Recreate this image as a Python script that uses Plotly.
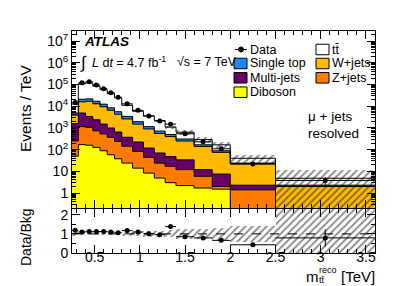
import numpy as np
import plotly.graph_objects as go

# ---------------- data ----------------
edges = [0.25, 0.32, 0.40, 0.48, 0.56, 0.64, 0.72, 0.80, 0.92, 1.04, 1.16,
         1.28, 1.40, 1.60, 1.80, 2.00, 2.50, 3.60]

# events / TeV per component (bottom -> top of stack)
diboson   = [50, 170, 160, 127, 89, 58, 38, 24, 14, 8.3, 4.9, 3.0, 2.2, 1.7, 1.5, 0.05, 0.05]
zjets     = [200, 980, 910, 610, 440, 310, 200, 120, 69, 36, 19, 14, 9.8, 4.2, 0.5, 1.35, 0.05]
multijets = [1350, 3750, 2330, 1660, 975, 630, 410, 228, 142, 74, 46, 31, 22, 6.1, 5.5, 0.9, 0.05]
wjets     = [2300, 11100, 13600, 10600, 8000, 5500, 3650, 2230, 1275, 782, 490, 352, 216, 128, 67.5, 19.7, 1.85]
singletop = [1000, 5000, 5000, 4000, 3000, 2000, 1300, 800, 450, 250, 160, 100, 60, 28, 14, 2.0, 0.3]
ttbar     = [7700, 88000, 98000, 68000, 45500, 29500, 18900, 7700, 3950, 2410, 1470, 590, 325, 123, 78, 16, 2.5]

data      = [15000, 120000, 135000, 95000, 65000, 42000, 26000, 13000, 6500, 3600, 2100, 1500, 540, 230, 110, 22, 3.8]
data_err  = [300, 800, 900, 700, 600, 500, 400, 250, 170, 120, 90, 80, 40, 25, 17, 5, 1.6]

ratio     = [1.19, 1.10, 1.12, 1.12, 1.12, 1.10, 1.06, 1.17, 1.10, 1.01, 0.96, 1.38, 0.85, 0.79, 0.66, 0.43, 0.79]
ratio_err = [0.02, 0.01, 0.01, 0.01, 0.01, 0.01, 0.02, 0.02, 0.03, 0.03, 0.04, 0.06, 0.06, 0.08, 0.1, 0.1, 0.45]

# relative background uncertainty (hatched bands)
unc       = [0.10, 0.08, 0.08, 0.08, 0.08, 0.08, 0.08, 0.10, 0.12, 0.14, 0.15, 0.18, 0.28, 0.28, 0.32, 0.40, 1.3]

names  = ["Diboson", "Z+jets", "Multi-jets", "W+jets", "Single top", "tt\u0304"]
colors = ["#FFFF00", "#FF7A00", "#660066", "#FFBB00", "#1E88F0", "#FFFFFF"]

# ---------------- derived ----------------
edges_a = np.array(edges)
centers = (edges_a[:-1] + edges_a[1:]) / 2
widths = edges_a[1:] - edges_a[:-1]
comps = np.array([diboson, zjets, multijets, wjets, singletop, ttbar])
cum = np.cumsum(comps, axis=0)
total = cum[-1]
u = np.array(unc)

FONT = "Liberation Sans, Arial, Helvetica, sans-serif"
HATCH = dict(shape="/", fgcolor="#111111", bgcolor="rgba(0,0,0,0)", size=5, solidity=0.35)

fig = go.Figure()

# stacked histogram as overlaid cumulative bars (top layer first)
for i in reversed(range(len(comps))):
    fig.add_trace(go.Bar(x=centers, y=cum[i], width=widths, marker=dict(color=colors[i], line=dict(width=0)),
                         xaxis="x", yaxis="y", hoverinfo="skip"))

# hatched uncertainty band (main)
lo = np.maximum(total * (1 - u), 1e-3)
hi = total * (1 + u)
fig.add_trace(go.Bar(x=centers, y=hi - lo, base=lo, width=widths,
                     marker=dict(color="rgba(0,0,0,0)", line=dict(width=0), pattern=HATCH),
                     xaxis="x", yaxis="y", hoverinfo="skip"))

# black step outlines of each layer
for i in range(len(comps)):
    fig.add_trace(go.Scatter(x=edges, y=list(cum[i]) + [cum[i][-1]], mode="lines",
                             line=dict(color="black", width=1, shape="hv"),
                             xaxis="x", yaxis="y", hoverinfo="skip"))

# data
fig.add_trace(go.Scatter(x=centers, y=data, mode="markers",
                         marker=dict(color="black", size=5),
                         error_x=dict(type="data", array=widths / 2, color="black", thickness=1, width=0),
                         error_y=dict(type="data", array=data_err, color="black", thickness=1, width=0),
                         xaxis="x", yaxis="y"))

# ratio band
rlo = np.maximum(1 - u, 0)
rhi = 1 + u
fig.add_trace(go.Bar(x=centers, y=rhi - rlo, base=rlo, width=widths,
                     marker=dict(color="rgba(0,0,0,0)", line=dict(width=0), pattern=HATCH),
                     xaxis="x2", yaxis="y2", hoverinfo="skip"))
fig.add_trace(go.Scatter(x=centers, y=ratio, mode="markers",
                         marker=dict(color="black", size=5),
                         error_x=dict(type="data", array=widths / 2, color="black", thickness=1, width=0),
                         error_y=dict(type="data", array=ratio_err, color="black", thickness=1, width=0),
                         xaxis="x2", yaxis="y2"))

# ---------------- layout ----------------
L, R, T, B = 64, 32, 23, 41
W, H = 399, 286
PW, PH = W - L - R, H - T - B


def PX(x):
    return (x - L) / PW


def PY(y):
    return 1 - (y - T) / PH


main_bot = PY(200)
ratio_top = PY(201)

axis_common = dict(showline=True, linecolor="black", linewidth=1, mirror="allticks",
                   ticks="inside", tickcolor="black", showgrid=False, zeroline=False,
                   tickfont=dict(family=FONT, size=14, color="black"))

dec = list(range(-1, 8))
major_y = [10.0 ** d for d in range(0, 8)]
major_txt = ["1", "10"] + ["10<sup>%d</sup>" % d for d in range(2, 8)]
minor_y = [k * 10.0 ** d for d in dec for k in range(2, 10)]

fig.update_layout(
    width=W, height=H, margin=dict(l=L, r=R, t=T, b=B),
    paper_bgcolor="white", plot_bgcolor="white", showlegend=False,
    barmode="overlay", bargap=0,
    font=dict(family=FONT, color="black"),
    xaxis=dict(domain=[0, 1], anchor="y", range=[0.25, 3.6], showticklabels=False,
               tick0=0, dtick=0.5, ticklen=8,
               minor=dict(ticks="inside", ticklen=4, tick0=0, dtick=0.1, tickcolor="black"),
               **axis_common),
    yaxis=dict(domain=[main_bot, 1], anchor="x", type="log", range=[-0.69, 7.47],
               tickmode="array", tickvals=major_y, ticktext=major_txt, ticklen=8,
               minor=dict(ticks="inside", ticklen=4, tickmode="array", tickvals=minor_y, tickcolor="black"),
               **axis_common),
    xaxis2=dict(domain=[0, 1], anchor="y2", range=[0.25, 3.6],
                tickmode="array", tickvals=[0.5, 1, 1.5, 2, 2.5, 3, 3.5],
                ticktext=["0.5", "1", "1.5", "2", "2.5", "3", "3.5"], ticklen=8,
                ticklabelstandoff=-9,
                minor=dict(ticks="inside", ticklen=4, tick0=0, dtick=0.1, tickcolor="black"),
                **axis_common),
    yaxis2=dict(domain=[0, ratio_top], anchor="x2", range=[0, 2.3],
                tickmode="array", tickvals=[0, 1, 2], ticktext=["0", "1", "2"], ticklen=8,
                minor=dict(ticks="inside", ticklen=4, tickmode="array", tickvals=[0.5, 1.5], tickcolor="black"),
                **axis_common),
)

shapes = []
annotations = []

# dashed unity line in ratio panel
shapes.append(dict(type="line", xref="x2 domain", yref="y2", x0=0, x1=1, y0=1, y1=1,
                   line=dict(color="black", width=1, dash="dash")))


def text(x, y, s, size, xanchor="left", angle=0, yanchor="middle"):
    annotations.append(dict(x=PX(x), y=PY(y), xref="paper", yref="paper", text=s, showarrow=False,
                            xanchor=xanchor, yanchor=yanchor, textangle=angle, borderpad=0,
                            font=dict(family=FONT, size=size, color="black")))


# legend (manual, two columns)
rows = [41.5, 55.5, 69.8, 84.2]
col1, col2 = 226, 308
sw, sh = 13, 10.5
# Data entry
shapes.append(dict(type="line", xref="paper", yref="paper", x0=PX(col1 + 1), x1=PX(col1 + 13),
                   y0=PY(rows[0]), y1=PY(rows[0]), line=dict(color="black", width=1)))
shapes.append(dict(type="circle", xref="paper", yref="paper", x0=PX(col1 + 4.5), x1=PX(col1 + 9.5),
                   y0=PY(rows[0] + 2.5), y1=PY(rows[0] - 2.5), fillcolor="black", line=dict(color="black", width=1)))
text(col1 + 15, rows[0], "Data", 12.5)
legend_items = [(col1, rows[1], 4), (col1, rows[2], 2), (col1, rows[3], 0),
                (col2, rows[0], 5), (col2, rows[1], 3), (col2, rows[2], 1)]
for cx, cy, idx in legend_items:
    shapes.append(dict(type="rect", xref="paper", yref="paper", x0=PX(cx), x1=PX(cx + sw),
                       y0=PY(cy + sh / 2), y1=PY(cy - sh / 2), fillcolor=colors[idx],
                       line=dict(color="black", width=1)))
    text(cx + 15, cy, names[idx], 12.5)

# ATLAS label and luminosity
text(75, 33, "<b><i>ATLAS</i></b>", 13.5)
text(71, 54, "\u222b", 17)
text(83, 53.5, "<i>L</i> d<i>t</i> = 4.7 fb<sup>-1</sup>", 12.5)
text(168, 53.5, "\u221As = 7 TeV", 12.5)

# channel label
text(299, 108, "\u03bc + jets", 13.5)
text(299, 126, "resolved", 13.5)

# axis titles
text(18, 101, "Events / TeV", 15.5, xanchor="center", angle=-90)
text(18, 229, "Data/Bkg", 14, xanchor="center", angle=-90)
text(304, 268, "m", 15, xanchor="center")
text(309.5, 261.5, "reco", 9)
text(309.5, 272, "tt\u0304", 9)
text(368, 268, "[TeV]", 15, xanchor="right")

fig.update_layout(shapes=shapes, annotations=annotations)

fig.write_html("out.html")
